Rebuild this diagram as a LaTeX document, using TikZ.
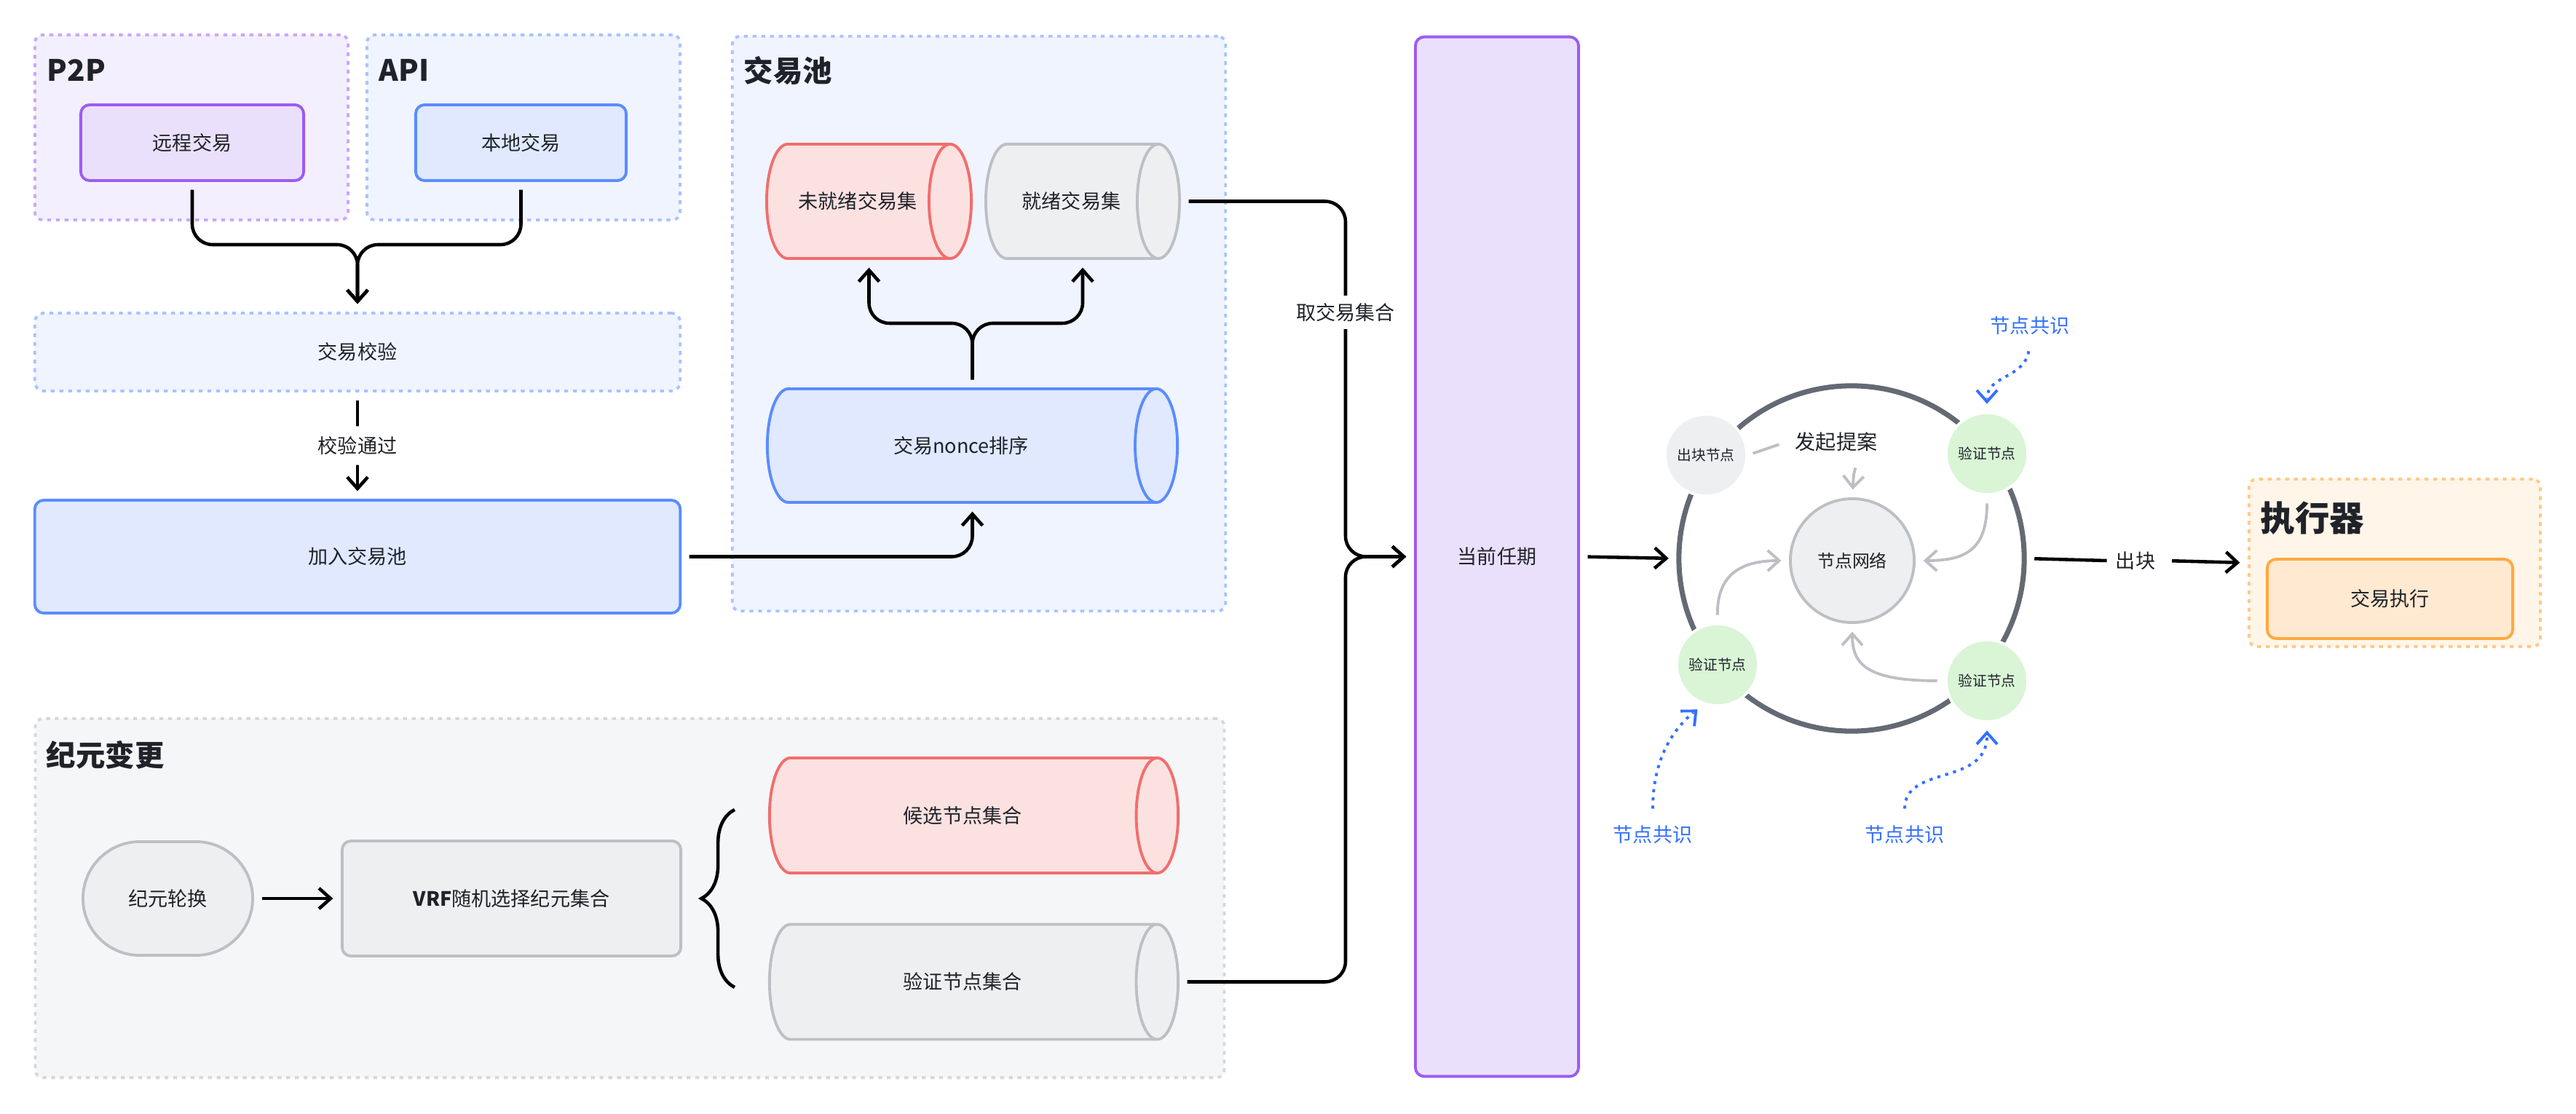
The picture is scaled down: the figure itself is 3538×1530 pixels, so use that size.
\documentclass[tikz,border=0pt]{standalone}
\usepackage{fontspec}
\setmainfont{Noto Sans CJK SC}
\usepackage{tikz}
\usetikzlibrary{arrows.meta, calc, shapes.geometric, decorations.pathreplacing, positioning}

\definecolor{ink}{HTML}{1F2329}
\definecolor{purpline}{HTML}{9B5CF3}
\definecolor{purpfill}{HTML}{EBE0FC}
\definecolor{purpgrp}{HTML}{F4EFFE}
\definecolor{purpdot}{HTML}{C9A9F9}
\definecolor{blueline}{HTML}{5B8CFF}
\definecolor{bluefill}{HTML}{E0E9FF}
\definecolor{bluegrp}{HTML}{EFF4FF}
\definecolor{bluedot}{HTML}{A9C3FF}
\definecolor{redline}{HTML}{F26D6D}
\definecolor{redfill}{HTML}{FCE1E1}
\definecolor{grayline}{HTML}{BDBFC4}
\definecolor{grayfill}{HTML}{EEEFF1}
\definecolor{graygrp}{HTML}{F5F6F7}
\definecolor{graydot}{HTML}{D6D8DB}
\definecolor{greenfill}{HTML}{D9F5D6}
\definecolor{orangeline}{HTML}{FFA940}
\definecolor{orangefill}{HTML}{FFE9D1}
\definecolor{orangegrp}{HTML}{FFF5E8}
\definecolor{orangedot}{HTML}{FFC98A}
\definecolor{ringc}{HTML}{646A73}
\definecolor{votec}{HTML}{3370FF}

\begin{document}
\begin{tikzpicture}[x=0.01cm, y=-0.01cm,
		font=\fontsize{7.7pt}{9pt}\selectfont, text=ink,
		>={Straight Barb[length=4.5pt,width=8pt]},
		conn/.style={line width=1.3pt, ->, rounded corners=8pt, shorten <=3pt, shorten >=3pt},
		grp/.style={rectangle, rounded corners=3pt, line width=1.1pt, dash pattern=on 1.5pt off 1.9pt, inner sep=0pt},
		box/.style={rectangle, rounded corners=3.5pt, line width=1.1pt, inner sep=0pt},
		tube/.style={cylinder, shape aspect=2.3, anchor=shape center, line width=1.1pt, inner sep=0pt},
		ttl/.style={anchor=west, inner sep=0pt, font=\fontsize{11.5pt}{13pt}\selectfont\bfseries},
		peer/.style={circle, minimum size=1.12cm, inner sep=0pt, draw=white, line width=1pt, font=\fontsize{5.6pt}{6pt}\selectfont},
		soft/.style={draw=grayline, line width=1.1pt, ->, shorten <=3pt, shorten >=3pt},
		vote/.style={draw=votec, line width=1.1pt, dash pattern=on 1.2pt off 2pt, shorten <=3pt, shorten >=5pt},
		votetip/.style={draw=votec, line width=1.1pt, ->, shorten >=3pt}]

	\useasboundingbox (0,0) rectangle (3538,1530);

	\node[grp, draw=purpdot, fill=purpgrp, minimum width=4.30cm, minimum height=2.54cm] (p2pgrp) at (263,175) {};
	\node[grp, draw=bluedot, fill=bluegrp, minimum width=4.30cm, minimum height=2.54cm] (apigrp) at (719,175) {};
	\node[grp, draw=bluedot, fill=bluegrp, minimum width=6.77cm, minimum height=7.89cm] (poolgrp) at (1344.5,444.5) {};
	\node[grp, draw=graydot, fill=graygrp, minimum width=16.32cm, minimum height=4.93cm] (epochgrp) at (865,1233.5) {};
	\node[grp, draw=orangedot, fill=orangegrp, minimum width=4.00cm, minimum height=2.30cm] (execgrp) at (3289,773) {};

	\node[ttl] (p2pttl) at (64,96) {P2P};
	\node[ttl] (apittl) at (520,96) {API};
	\node[ttl] (poolttl) at (1021,97) {交易池};
	\node[ttl] (epochttl) at (63,1037) {纪元变更};
	\node[ttl, font=\fontsize{13.5pt}{15pt}\selectfont\bfseries] (execttl) at (3104,712) {执行器};

	\node[box, draw=purpline, fill=purpfill, minimum width=3.06cm, minimum height=1.04cm] (remote) at (264,196) {远程交易};
	\node[box, draw=blueline, fill=bluefill, minimum width=2.89cm, minimum height=1.04cm] (local) at (715.5,196) {本地交易};
	\node[grp, rounded corners=3.5pt, draw=bluedot, fill=bluegrp, minimum width=8.86cm, minimum height=1.07cm] (verify) at (491,483.5) {交易校验};
	\node[box, draw=blueline, fill=bluefill, minimum width=8.86cm, minimum height=1.55cm] (join) at (491,764.5) {加入交易池};

	\node[tube, draw=redline, fill=redfill, minimum height=2.81cm, minimum width=1.57cm] (unready) at (1193.5,276.5) {未就绪交易集};
	\node[tube, draw=grayline, fill=grayfill, minimum height=2.66cm, minimum width=1.57cm] (ready) at (1487,276.5) {就绪交易集};
	\node[tube, draw=blueline, fill=bluefill, minimum height=5.63cm, minimum width=1.56cm] (nonce) at (1335.5,612) {交易nonce排序};

	\node[box, draw=grayline, fill=grayfill, rounded corners=0.78cm, minimum width=2.33cm, minimum height=1.56cm] (epochturn) at (230.5,1234) {纪元轮换};
	\node[box, draw=grayline, fill=grayfill, minimum width=4.65cm, minimum height=1.58cm] (vrf) at (702.5,1234) {\textbf{VRF}随机选择纪元集合};
	\node[tube, draw=redline, fill=redfill, minimum height=5.61cm, minimum width=1.58cm] (cand) at (1337.5,1120) {候选节点集合};
	\node[tube, draw=grayline, fill=grayfill, minimum height=5.61cm, minimum width=1.58cm] (valset) at (1337.5,1348.5) {验证节点集合};

	\node[box, draw=purpline, fill=purpfill, minimum width=2.24cm, minimum height=14.27cm] (term) at (2056,764.5) {当前任期};

	\node[circle, draw=ringc, line width=2pt, minimum size=4.74cm, inner sep=0pt] (ring) at (2543,767) {};
	\node[circle, draw=grayline, fill=grayfill, line width=1.1pt, minimum size=1.70cm, inner sep=0pt, font=\fontsize{6.8pt}{8pt}\selectfont] (net) at (2544,770) {节点网络};
	\node[peer, fill=grayfill] (leader) at (2343,625) {出块节点};
	\node[peer, fill=greenfill] (v1) at (2729,623) {验证节点};
	\node[peer, fill=greenfill] (v2) at (2359,913) {验证节点};
	\node[peer, fill=greenfill] (v3) at (2729,935) {验证节点};
	\node[font=\fontsize{8pt}{9pt}\selectfont] (propose) at (2522,607) {发起提案};
	\node[text=votec] (vtop) at (2788,447) {节点共识};
	\node[text=votec] (vbl) at (2270,1146) {节点共识};
	\node[text=votec] (vbr) at (2616,1146) {节点共识};

	\node[box, draw=orangeline, fill=orangefill, minimum width=3.37cm, minimum height=1.09cm] (run) at (3282.5,822.5) {交易执行};
	\node (blk) at (2933,770) {出块};

	\draw[conn] (remote.south) |- (491,336) -- (verify.north);
	\draw[conn] (local.south) |- (491,336) -- (verify.north);
	\draw[conn] (verify.south) -- node[fill=white, inner sep=4pt] {校验通过} (join.north);
	\draw[conn] (join.east) -| (nonce.shape center |- nonce.south);

	\coordinate (fork) at (1335.5,444);
	\draw[conn] (nonce.shape center |- nonce.north) -- (fork) -| (unready.shape center |- unready.south);
	\draw[conn] (nonce.shape center |- nonce.north) -- (fork) -| (ready.shape center |- ready.south);

	\draw[conn] (epochturn.east) -- (vrf.west);
	\draw[decorate, decoration={brace, amplitude=13pt}, line width=1.3pt] (1009,1356) -- (1009,1112);

	\coordinate (merge) at (1848,764.5);
	\draw[conn] (ready.east) -| (merge) -- (term.west);
	\draw[conn] (valset.east) -| (merge) -- (term.west);
	\node[fill=white, inner sep=3pt] (take) at (1848,429) {取交易集合};

	\draw[conn] (term.east) -- (ring.west);
	\draw[line width=1.3pt, shorten <=3pt] (ring.east) -- (blk.west);
	\draw[conn] (blk.east) -- (execgrp.west);

	\draw[draw=grayline, line width=1.1pt, shorten <=2pt, shorten >=3pt] (leader.east) -- (propose.west);
	\draw[soft] ([xshift=0.3cm]propose.south) .. controls (2546,650) .. (net.north);
	\draw[soft] (v1.south) .. controls (2729,755) and (2700,770) .. (net.east);
	\draw[soft] (v3.west) .. controls (2560,935) and (2544,910) .. (net.south);
	\draw[soft] (v2.north) .. controls (2358,790) and (2390,770) .. (net.west);

	\draw[vote] (vtop.south) .. controls (2780,520) and (2729,515) .. (v1.north);
	\draw[votetip] ($(v1.north)+(0,-14)$) -- (v1.north);
	\draw[vote] (vbl.north) .. controls (2270,1040) and (2300,1000) .. (v2.250);
	\draw[votetip] ($(v2.250)+(-11,10)$) -- (v2.250);
	\draw[vote] (vbr.north) .. controls (2616,1050) and (2729,1080) .. (v3.south);
	\draw[votetip] ($(v3.south)+(0,14)$) -- (v3.south);
\end{tikzpicture}
\end{document}
